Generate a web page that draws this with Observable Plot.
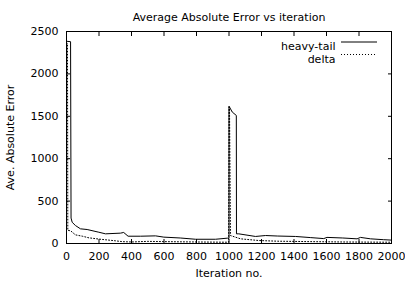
<!DOCTYPE html>
<html>
<head>
<meta charset="utf-8">
<script src="https://cdn.jsdelivr.net/npm/d3@7"></script>
<script src="https://cdn.jsdelivr.net/npm/@observablehq/plot@0.6"></script>
<style>
  html, body { margin: 0; padding: 0; background: #fff; }
</style>
</head>
<body>
<div id="chart"></div>
<script>
const titleText = "Average Absolute Error vs iteration";
const xLabel = "Iteration no.";
const yLabel = "Ave. Absolute Error";
const seriesNames = ["heavy-tail", "delta"];
const xTicks = [0, 200, 400, 600, 800, 1000, 1200, 1400, 1600, 1800, 2000];
const yTicks = [0, 500, 1000, 1500, 2000, 2500];

const heavyIter = [0, 25, 28, 35, 55, 86, 127, 199, 240, 332, 352, 379, 455, 548, 599, 700, 794, 917, 990, 1000, 1000, 1020, 1045, 1046, 1060, 1163, 1225, 1300, 1409, 1500, 1583, 1603, 1700, 1788, 1809, 1871, 1950, 2000];
const heavyErr  = [2385, 2380, 300, 250, 212, 173, 165, 133, 114, 122, 130, 86, 86, 90, 75, 65, 50, 50, 63, 63, 1620, 1550, 1510, 114, 114, 83, 94, 88, 83, 70, 58, 72, 65, 55, 72, 55, 45, 40];

const deltaIter = [0, 6, 8, 25, 55, 100, 137, 200, 240, 300, 342, 400, 500, 600, 800, 998, 1000, 1003, 1009, 1071, 1184, 1300, 1500, 1700, 2000];
const deltaErr  = [2370, 2360, 155, 150, 102, 85, 67, 52, 44, 32, 22, 18, 25, 22, 18, 15, 1610, 1600, 94, 55, 35, 27, 22, 18, 15];

const heavy = heavyIter.map((x, i) => ({x, y: heavyErr[i]}));
const delta = deltaIter.map((x, i) => ({x, y: deltaErr[i]}));

const plot = Plot.plot({
  width: 405,
  height: 282,
  marginLeft: 66,
  marginRight: 14,
  marginTop: 31,
  marginBottom: 39,
  style: {fontFamily: "DejaVu Sans", fontSize: "11px", background: "white", color: "black"},
  x: {domain: [0, 2000]},
  y: {domain: [0, 2500]},
  marks: [
    Plot.axisX(xTicks, {anchor: "bottom", tickSize: -4, tickPadding: 13, tickFormat: "d", label: xLabel, labelAnchor: "center", labelOffset: 33, labelArrow: "none"}),
    Plot.axisX(xTicks, {anchor: "top", tickSize: -4, tickFormat: () => "", label: null}),
    Plot.axisY(yTicks, {anchor: "left", tickSize: -4, tickPadding: 12, tickFormat: "d", label: yLabel, labelAnchor: "center", labelOffset: 60, labelArrow: "none"}),
    Plot.axisY(yTicks, {anchor: "right", tickSize: -4, tickFormat: () => "", label: null}),
    Plot.line(heavy, {x: "x", y: "y", stroke: "black", strokeWidth: 1}),
    Plot.line(delta, {x: "x", y: "y", stroke: "black", strokeWidth: 1, strokeDasharray: "1,2"}),
    Plot.frame({stroke: "black"}),
    Plot.text([titleText], {frameAnchor: "top", dy: -18, fontSize: 11}),
    Plot.text([seriesNames[0]], {frameAnchor: "top-right", dx: -56, dy: 11, textAnchor: "end", fontSize: 11}),
    Plot.text([seriesNames[1]], {frameAnchor: "top-right", dx: -56, dy: 23.5, textAnchor: "end", fontSize: 11})
  ]
});

// legend line samples
const svg = d3.select(plot);
svg.append("line").attr("x1", 341).attr("x2", 377).attr("y1", 42).attr("y2", 42)
  .attr("stroke", "black").attr("stroke-width", 1);
svg.append("line").attr("x1", 341).attr("x2", 377).attr("y1", 54.5).attr("y2", 54.5)
  .attr("stroke", "black").attr("stroke-width", 1).attr("stroke-dasharray", "1,2");

document.getElementById("chart").appendChild(plot);
</script>
</body>
</html>
